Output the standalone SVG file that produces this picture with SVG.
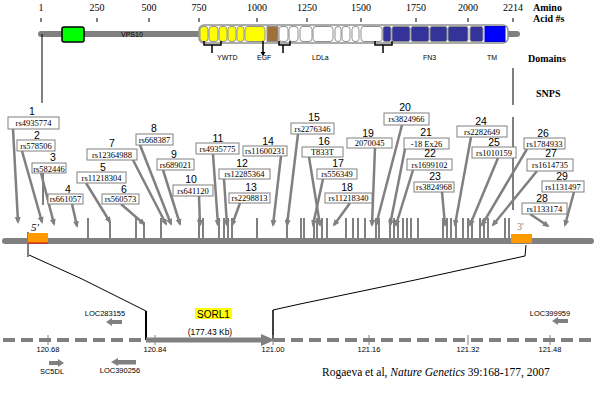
<svg xmlns="http://www.w3.org/2000/svg" width="602" height="394" viewBox="0 0 602 394">
<style>
.sc{font-family:"Liberation Serif",serif;font-size:10px;text-anchor:middle;fill:#000}
.hd{font-family:"Liberation Serif",serif;font-size:10px;font-weight:bold;fill:#000}
.dm{font-family:"Liberation Sans",Arial,sans-serif;font-size:7px;fill:#000}
.num{font-family:"Liberation Sans",Arial,sans-serif;font-size:10.5px;text-anchor:middle;fill:#000}
.rs{font-family:"Liberation Serif",serif;font-size:8.5px;text-anchor:middle;fill:#000}
.bx{fill:#fff;stroke:#808080;stroke-width:1}
.gl{font-family:"Liberation Sans",Arial,sans-serif;font-size:7.5px;text-anchor:middle;fill:#000}
.arr{stroke:#808080;stroke-width:2.5;fill:none;marker-end:url(#ah)}
.stub{stroke:#808080;stroke-width:2}
.seg{stroke:#909090;stroke-width:1}
.blk{stroke:#000;stroke-width:1;fill:none}
</style>
<defs>
<marker id="ah" markerUnits="userSpaceOnUse" markerWidth="7" markerHeight="7" refX="5" refY="3.5" orient="auto"><path d="M0,0.5 L7,3.5 L0,6.5 z" fill="#808080"/></marker>
</defs>
<rect width="602" height="394" fill="#fff"/>

<g id="protein">
<g stroke="#000" stroke-width="1">
<line x1="41" y1="18" x2="41" y2="22"/><line x1="97" y1="18" x2="97" y2="22"/><line x1="149" y1="18" x2="149" y2="22"/><line x1="199" y1="18" x2="199" y2="22"/><line x1="257" y1="18" x2="257" y2="22"/><line x1="307" y1="18" x2="307" y2="22"/><line x1="361" y1="18" x2="361" y2="22"/><line x1="416" y1="18" x2="416" y2="22"/><line x1="468" y1="18" x2="468" y2="22"/><line x1="513" y1="18" x2="513" y2="22"/>
</g>
<text class="sc" x="41" y="11">1</text><text class="sc" x="97" y="11">250</text><text class="sc" x="149" y="11">500</text><text class="sc" x="199" y="11">750</text><text class="sc" x="257" y="11">1000</text><text class="sc" x="307" y="11">1250</text><text class="sc" x="361" y="11">1500</text><text class="sc" x="416" y="11">1750</text><text class="sc" x="468" y="11">2000</text><text class="sc" x="513" y="11">2214</text>
<text class="hd" x="533" y="11">Amino</text><text class="hd" x="533" y="22">Acid #s</text>
<text class="hd" x="528" y="62">Domains</text>
<text class="hd" x="536" y="97">SNPS</text>
<line x1="41" y1="34" x2="517" y2="34" stroke="#808080" stroke-width="6" stroke-linecap="round"/>
<rect x="62" y="27" width="22" height="15" rx="2" fill="#00ff00" stroke="#000" stroke-width="1.5"/>
<text class="dm" x="121" y="37">VPS10</text>
<rect x="199" y="25" width="309" height="18" rx="5" fill="#fff" stroke="#909090" stroke-width="1.5"/>
<g class="seg" fill="#ffff00">
<rect x="200" y="26.5" width="8" height="15" rx="3"/><rect x="209" y="26.5" width="9" height="15" rx="3"/><rect x="219" y="26.5" width="8" height="15" rx="3"/><rect x="228" y="26.5" width="8" height="15" rx="3"/><rect x="237" y="26.5" width="7" height="15" rx="3"/><rect x="245" y="26.5" width="20" height="15" rx="3"/>
</g>
<rect class="seg" x="267" y="26.5" width="11" height="15" fill="#a0703a"/>
<g class="seg" fill="#fff">
<rect x="279" y="26.5" width="9" height="15" rx="3"/><rect x="289" y="26.5" width="9" height="15" rx="3"/><rect x="300" y="26.5" width="12" height="15" rx="3"/><rect x="313" y="26.5" width="20" height="15" rx="3"/><rect x="335" y="26.5" width="6" height="15" rx="3"/><rect x="342" y="26.5" width="8" height="15" rx="3"/><rect x="352" y="26.5" width="7" height="15" rx="3"/><rect x="361" y="26.5" width="21" height="15" rx="3"/>
</g>
<g class="seg" fill="#333399">
<rect x="383" y="26.5" width="8" height="15" rx="2"/><rect x="392" y="26.5" width="18" height="15" rx="2"/><rect x="411" y="26.5" width="18" height="15" rx="2"/><rect x="430" y="26.5" width="17" height="15" rx="2"/><rect x="448" y="26.5" width="20" height="15" rx="2"/><rect x="470" y="26.5" width="13" height="15" rx="2"/>
</g>
<rect x="485" y="26.5" width="20" height="15" fill="#0000ff" stroke="#0000cc" stroke-width="1"/>
<g stroke="#000" stroke-width="1.5" fill="none">
<path d="M204,41 V45 H221 V41 M212,45 V53"/>
<path d="M263,41 V55"/>
<path d="M279,41 V45 H290 V41 M283,45 V53"/>
<path d="M375,41 V45 H392 V41 M383,45 V53"/>
</g>
<path d="M260.5,52 L263,56 L265.5,52 z" fill="#000"/>
<text class="dm" x="217" y="60">YWTD</text>
<text class="dm" x="257" y="60">EGF</text>
<text class="dm" x="312" y="60">LDLa</text>
<text class="dm" x="423" y="60">FN3</text>
<text class="dm" x="487" y="60">TM</text>
</g>

<g id="connectors">
<g class="blk">
<line x1="42" y1="34" x2="42" y2="103"/>
<line x1="43" y1="173" x2="43" y2="205"/>
<line x1="513" y1="68" x2="513" y2="105"/>
<line x1="513" y1="117" x2="513" y2="210"/>
<polyline points="28,232 28,257"/>
<polyline points="29,255 82,279 146,311"/>
<polyline points="526,245 525,256 415,280 300,304 273,310"/>
</g>
<line x1="146" y1="311" x2="146" y2="340" stroke="#000" stroke-width="2"/>
<line x1="273" y1="310" x2="273" y2="340" stroke="#000" stroke-width="1.5"/>
<g>
<line class="arr" x1="13" y1="129" x2="18" y2="222"/>
<line class="arr" x1="22" y1="151" x2="42" y2="222"/>
<line class="arr" x1="41" y1="173" x2="54" y2="224"/>
<line class="arr" x1="72" y1="204" x2="77" y2="226"/>
<line class="arr" x1="86" y1="183" x2="110" y2="222"/>
<line class="arr" x1="121" y1="204" x2="144" y2="224"/>
<line class="arr" x1="133" y1="160" x2="166" y2="224"/>
<line class="arr" x1="140" y1="145" x2="171" y2="224"/>
<line class="arr" x1="163" y1="170" x2="180" y2="224"/>
<line class="arr" x1="199" y1="196" x2="200" y2="225"/>
<line class="arr" x1="213" y1="154" x2="218" y2="225"/>
<line class="arr" x1="224" y1="179" x2="227" y2="225"/>
<line class="arr" x1="240" y1="203" x2="232" y2="225"/>
<line class="arr" x1="281" y1="156" x2="273" y2="225"/>
<line class="arr" x1="298" y1="134" x2="287" y2="225"/>
<line class="arr" x1="309" y1="157" x2="320" y2="225"/>
<line class="arr" x1="323" y1="179" x2="313" y2="225"/>
<line class="arr" x1="350" y1="203" x2="334" y2="225"/>
<line class="arr" x1="375" y1="148" x2="372" y2="225"/>
<line class="arr" x1="402" y1="125" x2="376" y2="225"/>
<line class="arr" x1="405" y1="149" x2="390" y2="225"/>
<line class="arr" x1="413" y1="170" x2="396" y2="225"/>
<line class="arr" x1="442" y1="192" x2="445" y2="225"/>
<line class="arr" x1="471" y1="137" x2="455" y2="225"/>
<line class="arr" x1="498" y1="158" x2="470" y2="225"/>
<line class="arr" x1="527" y1="149" x2="482" y2="225"/>
<line class="arr" x1="537" y1="171" x2="493" y2="225"/>
<line class="arr" x1="530" y1="214" x2="548" y2="226"/>
<line class="arr" x1="574" y1="192" x2="565" y2="225"/>
</g>
</g>

<g id="gene">
<line x1="5" y1="241" x2="591" y2="241" stroke="#808080" stroke-width="6" stroke-linecap="round"/>
<g class="stub">
<line x1="88" y1="218" x2="88" y2="239"/><line x1="110" y1="222" x2="110" y2="239"/><line x1="136" y1="218" x2="136" y2="239"/><line x1="144" y1="222" x2="144" y2="239"/><line x1="161" y1="218" x2="161" y2="239"/><line x1="199" y1="218" x2="199" y2="239"/><line x1="203" y1="218" x2="203" y2="239"/><line x1="219" y1="218" x2="219" y2="239"/><line x1="224" y1="218" x2="224" y2="239"/><line x1="228" y1="218" x2="228" y2="239"/><line x1="232" y1="218" x2="232" y2="239"/><line x1="257" y1="218" x2="257" y2="239"/><line x1="287" y1="218" x2="287" y2="239"/><line x1="301" y1="218" x2="301" y2="239"/><line x1="304" y1="218" x2="304" y2="239"/><line x1="314" y1="218" x2="314" y2="239"/><line x1="317" y1="218" x2="317" y2="239"/><line x1="322" y1="218" x2="322" y2="239"/><line x1="327" y1="218" x2="327" y2="239"/><line x1="346" y1="218" x2="346" y2="239"/><line x1="353" y1="218" x2="353" y2="239"/><line x1="358" y1="218" x2="358" y2="239"/><line x1="365" y1="218" x2="365" y2="239"/><line x1="376" y1="218" x2="376" y2="239"/><line x1="379" y1="218" x2="379" y2="239"/><line x1="390" y1="218" x2="390" y2="239"/><line x1="394" y1="218" x2="394" y2="239"/><line x1="398" y1="218" x2="398" y2="239"/><line x1="403" y1="218" x2="403" y2="239"/><line x1="407" y1="218" x2="407" y2="239"/><line x1="411" y1="218" x2="411" y2="239"/><line x1="418" y1="218" x2="418" y2="239"/><line x1="443" y1="218" x2="443" y2="239"/><line x1="447" y1="218" x2="447" y2="239"/><line x1="451" y1="218" x2="451" y2="239"/><line x1="456" y1="218" x2="456" y2="239"/><line x1="463" y1="218" x2="463" y2="239"/><line x1="468" y1="218" x2="468" y2="239"/><line x1="472" y1="218" x2="472" y2="239"/><line x1="480" y1="218" x2="480" y2="239"/><line x1="484" y1="218" x2="484" y2="239"/><line x1="488" y1="218" x2="488" y2="239"/><line x1="505" y1="218" x2="505" y2="239"/><line x1="509" y1="218" x2="509" y2="239"/>
</g>
<rect x="28" y="233" width="20" height="10" fill="#ff9900"/>
<line x1="28" y1="243" x2="48" y2="243" stroke="#e00000" stroke-width="1"/>
<text x="31" y="231" font-family="Liberation Serif,serif" font-size="11" font-style="italic">5'</text>
<rect x="511" y="234" width="21" height="9" fill="#ff9900"/>
<text x="517" y="230" font-family="Liberation Serif,serif" font-size="10" fill="#808080">3'</text>
</g>

<g id="snp-labels">
<g id="snp1"><text class="num" x="32" y="115">1</text><rect class="bx" x="8" y="117" width="51" height="12"/><text class="rs" x="33.5" y="126">rs4935774</text></g>
<g id="snp2"><text class="num" x="37" y="138.5">2</text><rect class="bx" x="17" y="140" width="38" height="11"/><text class="rs" x="36" y="148.5">rs578506</text></g>
<g id="snp3"><text class="num" x="53" y="161">3</text><rect class="bx" x="32" y="163" width="34" height="10"/><text class="rs" x="49" y="171.5">rs582446</text></g>
<g id="snp4"><text class="num" x="68" y="192.5">4</text><rect class="bx" x="48" y="194" width="35" height="10"/><text class="rs" x="65.5" y="202">rs661057</text></g>
<g id="snp5"><text class="num" x="103" y="170.5">5</text><rect class="bx" x="77" y="172" width="49" height="11"/><text class="rs" x="101.5" y="180.5">rs11218304</text></g>
<g id="snp6"><text class="num" x="124" y="192.5">6</text><rect class="bx" x="102" y="194" width="37" height="10"/><text class="rs" x="120.5" y="202">rs560573</text></g>
<g id="snp7"><text class="num" x="112" y="147">7</text><rect class="bx" x="87" y="149" width="50" height="11"/><text class="rs" x="112" y="157.5">rs12364988</text></g>
<g id="snp8"><text class="num" x="154" y="132">8</text><rect class="bx" x="136" y="134" width="37" height="11"/><text class="rs" x="154.5" y="142.5">rs668387</text></g>
<g id="snp9"><text class="num" x="174" y="157.5">9</text><rect class="bx" x="157" y="159" width="37" height="11"/><text class="rs" x="175.5" y="167.5">rs689021</text></g>
<g id="snp10"><text class="num" x="191" y="183">10</text><rect class="bx" x="173" y="185" width="40" height="11"/><text class="rs" x="193" y="193.5">rs641120</text></g>
<g id="snp11"><text class="num" x="218" y="141.5">11</text><rect class="bx" x="196" y="143" width="43" height="11"/><text class="rs" x="217.5" y="151.5">rs4935775</text></g>
<g id="snp12"><text class="num" x="242" y="167">12</text><rect class="bx" x="219" y="169" width="51" height="10"/><text class="rs" x="244.5" y="177">rs12285364</text></g>
<g id="snp13"><text class="num" x="251" y="191">13</text><rect class="bx" x="229" y="193" width="41" height="10"/><text class="rs" x="249.5" y="201">rs2298813</text></g>
<g id="snp14"><text class="num" x="268" y="144.5">14</text><rect class="bx" x="243" y="146" width="44" height="10"/><text class="rs" x="265" y="154">rs11600231</text></g>
<g id="snp15"><text class="num" x="314" y="121">15</text><rect class="bx" x="291" y="123" width="43" height="11"/><text class="rs" x="312.5" y="131.5">rs2276346</text></g>
<g id="snp16"><text class="num" x="324" y="145">16</text><rect class="bx" x="302" y="147" width="41" height="10"/><text class="rs" x="322.5" y="155">T833T</text></g>
<g id="snp17"><text class="num" x="338" y="167">17</text><rect class="bx" x="317" y="169" width="40" height="10"/><text class="rs" x="337" y="177">rs556349</text></g>
<g id="snp18"><text class="num" x="347" y="191">18</text><rect class="bx" x="325" y="193" width="47" height="10"/><text class="rs" x="348.5" y="201">rs11218340</text></g>
<g id="snp19"><text class="num" x="368" y="136.5">19</text><rect class="bx" x="347" y="138" width="45" height="10"/><text class="rs" x="369.5" y="146">2070045</text></g>
<g id="snp20"><text class="num" x="405" y="111">20</text><rect class="bx" x="384" y="113" width="45" height="12"/><text class="rs" x="406.5" y="122">rs3824966</text></g>
<g id="snp21"><text class="num" x="426" y="136">21</text><rect class="bx" x="404" y="138" width="45" height="11"/><text class="rs" x="426.5" y="146.5">-18 Ex26</text></g>
<g id="snp22"><text class="num" x="430" y="157">22</text><rect class="bx" x="407" y="159" width="45" height="11"/><text class="rs" x="429.5" y="167.5">rs1699102</text></g>
<g id="snp23"><text class="num" x="435" y="180">23</text><rect class="bx" x="414" y="182" width="40" height="10"/><text class="rs" x="434" y="190">rs3824968</text></g>
<g id="snp24"><text class="num" x="481" y="124.5">24</text><rect class="bx" x="457" y="126" width="50" height="11"/><text class="rs" x="482" y="134.5">rs2282649</text></g>
<g id="snp25"><text class="num" x="494" y="145.5">25</text><rect class="bx" x="472" y="147" width="44" height="11"/><text class="rs" x="494" y="155.5">rs1010159</text></g>
<g id="snp26"><text class="num" x="543" y="136.5">26</text><rect class="bx" x="524" y="138" width="41" height="11"/><text class="rs" x="544.5" y="146.5">rs1784933</text></g>
<g id="snp27"><text class="num" x="551" y="157">27</text><rect class="bx" x="527" y="159" width="46" height="12"/><text class="rs" x="550" y="168">rs1614735</text></g>
<g id="snp28"><text class="num" x="542" y="201.5">28</text><rect class="bx" x="522" y="203" width="45" height="11"/><text class="rs" x="544.5" y="211.5">rs1133174</text></g>
<g id="snp29"><text class="num" x="562" y="179.5">29</text><rect class="bx" x="542" y="181" width="42" height="11"/><text class="rs" x="563" y="189.5">rs1131497</text></g>
</g>

<g id="genomic">
<line x1="3" y1="340" x2="592" y2="340" stroke="#808080" stroke-width="4" stroke-dasharray="12 6"/>
<g stroke="#808080" stroke-width="1">
<line x1="48" y1="335" x2="48" y2="345"/><line x1="155" y1="335" x2="155" y2="345"/><line x1="273" y1="335" x2="273" y2="345"/><line x1="369" y1="335" x2="369" y2="345"/><line x1="468" y1="335" x2="468" y2="345"/><line x1="550" y1="335" x2="550" y2="345"/>
</g>
<text class="gl" x="48" y="352">120.68</text><text class="gl" x="155" y="352">120.84</text><text class="gl" x="273" y="352">121.00</text><text class="gl" x="369" y="352">121.16</text><text class="gl" x="468" y="352">121.32</text><text class="gl" x="550" y="352">121.48</text>
</g>

<g id="sorl1">
<line x1="146" y1="340" x2="263" y2="340" stroke="#808080" stroke-width="5"/>
<path d="M261,334 L275,340 L261,346 z" fill="#808080"/>
<rect x="195" y="308" width="37" height="11" fill="#ffff00"/>
<text x="213.5" y="317.5" font-family="Liberation Sans,Arial,sans-serif" font-size="10" text-anchor="middle">SORL1</text>
<text x="210" y="335" font-family="Liberation Sans,Arial,sans-serif" font-size="8.5" text-anchor="middle">(177.43 Kb)</text>
</g>

<g id="loc283155">
<text class="gl" x="105" y="316">LOC283155</text>
<path d="M106,322 L112,318 L112,320 L122,320 L122,324 L112,324 L112,326 z" fill="#808080"/>
</g>
<g id="sc5dl">
<text class="gl" x="52" y="374">SC5DL</text>
<path d="M64,363 L58,359 L58,361 L49,361 L49,365 L58,365 L58,367 z" fill="#808080"/>
</g>
<g id="loc390256">
<text class="gl" x="120" y="373">LOC390256</text>
<path d="M111,362 L118,358 L118,360 L136,360 L136,364.5 L118,364.5 L118,366 z" fill="#808080"/>
</g>
<g id="loc399959">
<text class="gl" x="550" y="316">LOC399959</text>
<path d="M552,321 L558,317 L558,319 L568,319 L568,323 L558,323 L558,325 z" fill="#808080"/>
</g>

<text x="322" y="376" font-family="Liberation Serif,serif" font-size="11.5">Rogaeva et al, <tspan font-style="italic">Nature Genetics</tspan> 39:168-177, 2007</text>
</svg>
